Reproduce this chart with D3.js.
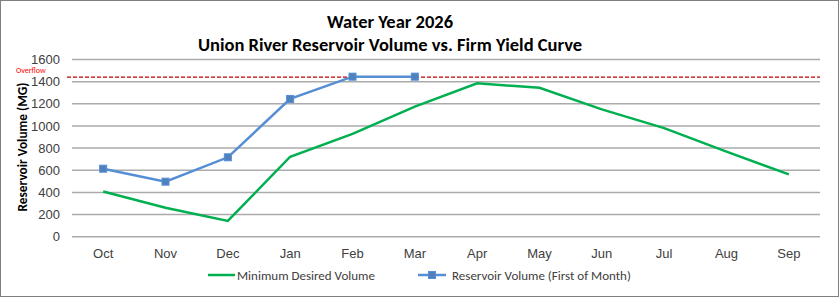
<!DOCTYPE html>
<html>
<head>
<meta charset="utf-8">
<script src="https://cdn.jsdelivr.net/npm/d3@7"></script>
<style>
  body { margin: 0; background: #fff; }
  svg { display: block; font-family: Carlito, "Liberation Sans", Arial, sans-serif; }
</style>
</head>
<body>
<svg id="chart"></svg>
<script>
// chart data
var months = ["Oct", "Nov", "Dec", "Jan", "Feb", "Mar", "Apr", "May", "Jun", "Jul", "Aug", "Sep"];
var minDesired = [408, 262, 142, 722, 928, 1175, 1385, 1345, 1150, 980, 768, 563];
var reservoir = [614, 497, 717, 1244, 1445, 1445];
var overflow = 1440;
var yTicks = [0, 200, 400, 600, 800, 1000, 1200, 1400, 1600];
var titleLines = ["Water Year 2026", "Union River Reservoir Volume vs. Firm Yield Curve"];

// set canvas size
var width = 839, height = 297,
    margin = {top: 59.5, right: 19, bottom: 60.3, left: 72};

var svg = d3.select("#chart").attr("width", width).attr("height", height);

// outer border
svg.append("rect")
    .attr("x", 0.5).attr("y", 0.5)
    .attr("width", width - 1).attr("height", height - 1)
    .attr("fill", "#fff").attr("stroke", "#7f7f7f");

var x = d3.scaleBand().domain(months).range([margin.left, width - margin.right]),
    y = d3.scaleLinear().domain([0, 1600]).range([height - margin.bottom, margin.top]);

function cx(m) { return x(m) + x.bandwidth() / 2; }

// titles
svg.selectAll(".title")
  .data(titleLines)
  .enter().append("text")
    .attr("class", "title")
    .attr("x", 390)
    .attr("y", function(d, i) { return 28 + i * 22.5; })
    .attr("text-anchor", "middle")
    .style("font-size", "18.5px")
    .style("font-weight", "bold")
    .text(function(d) { return d; });

// gridlines
svg.append("g")
  .selectAll("line")
  .data(yTicks)
  .enter().append("line")
    .attr("x1", margin.left).attr("x2", width - margin.right)
    .attr("y1", function(d) { return y(d); })
    .attr("y2", function(d) { return y(d); })
    .attr("stroke", "#ababab")
    .attr("stroke-width", 1.5);

// y axis
var yAxis = svg.append("g")
    .attr("transform", "translate(" + margin.left + ",0)")
    .call(d3.axisLeft(y).tickValues(yTicks).tickFormat(d3.format("d")).tickSize(0).tickPadding(12));
yAxis.select(".domain").remove();
yAxis.selectAll("text")
    .style("font-family", "inherit")
    .style("font-size", "13px")
    .attr("fill", "#404040");

// x axis
var xAxis = svg.append("g")
    .attr("transform", "translate(0," + (height - margin.bottom) + ")")
    .call(d3.axisBottom(x).tickSize(0).tickPadding(12));
xAxis.select(".domain").remove();
xAxis.selectAll("text")
    .style("font-family", "inherit")
    .style("font-size", "13px")
    .attr("fill", "#404040");

// y axis title
svg.append("text")
    .attr("transform", "translate(27,147) rotate(-90)")
    .attr("text-anchor", "middle")
    .style("font-size", "13.3px")
    .style("font-weight", "bold")
    .text("Reservoir Volume (MG)");

// overflow line
svg.append("line")
    .attr("x1", margin.left - 5).attr("x2", width - margin.right)
    .attr("y1", y(overflow)).attr("y2", y(overflow))
    .attr("stroke", "#c00000")
    .attr("stroke-width", 1.2)
    .attr("stroke-dasharray", "4,2");

svg.append("text")
    .attr("x", 16).attr("y", 73)
    .attr("fill", "#ff0000")
    .style("font-size", "8px")
    .text("Overflow");

var line = d3.line()
    .x(function(d, i) { return cx(months[i]); })
    .y(function(d) { return y(d); });

// minimum desired volume
svg.append("path")
    .datum(minDesired)
    .attr("fill", "none")
    .attr("stroke", "#00b050")
    .attr("stroke-width", 2.5)
    .attr("d", line);

// reservoir volume
svg.append("path")
    .datum(reservoir)
    .attr("fill", "none")
    .attr("stroke", "#558ed5")
    .attr("stroke-width", 2.5)
    .attr("d", line);

svg.selectAll(".marker")
  .data(reservoir)
  .enter().append("rect")
    .attr("class", "marker")
    .attr("x", function(d, i) { return cx(months[i]) - 3.5; })
    .attr("y", function(d) { return y(d) - 3.5; })
    .attr("width", 7).attr("height", 7)
    .attr("fill", "#4f81bd")
    .attr("stroke", "#558ed5");

// legend
var legend = svg.append("g").attr("transform", "translate(0,275)");
legend.append("line")
    .attr("x1", 208).attr("x2", 235).attr("y1", 0).attr("y2", 0)
    .attr("stroke", "#00b050").attr("stroke-width", 2.5);
legend.append("text")
    .attr("x", 237).attr("y", 4.5)
    .attr("fill", "#404040")
    .style("font-size", "13px")
    .text("Minimum Desired Volume");
legend.append("line")
    .attr("x1", 418).attr("x2", 446).attr("y1", 0).attr("y2", 0)
    .attr("stroke", "#558ed5").attr("stroke-width", 2.5);
legend.append("rect")
    .attr("x", 428.5).attr("y", -3.5).attr("width", 7).attr("height", 7)
    .attr("fill", "#4f81bd").attr("stroke", "#558ed5");
legend.append("text")
    .attr("x", 452).attr("y", 4.5)
    .attr("fill", "#404040")
    .style("font-size", "13px")
    .text("Reservoir Volume (First of Month)");
</script>
</body>
</html>
